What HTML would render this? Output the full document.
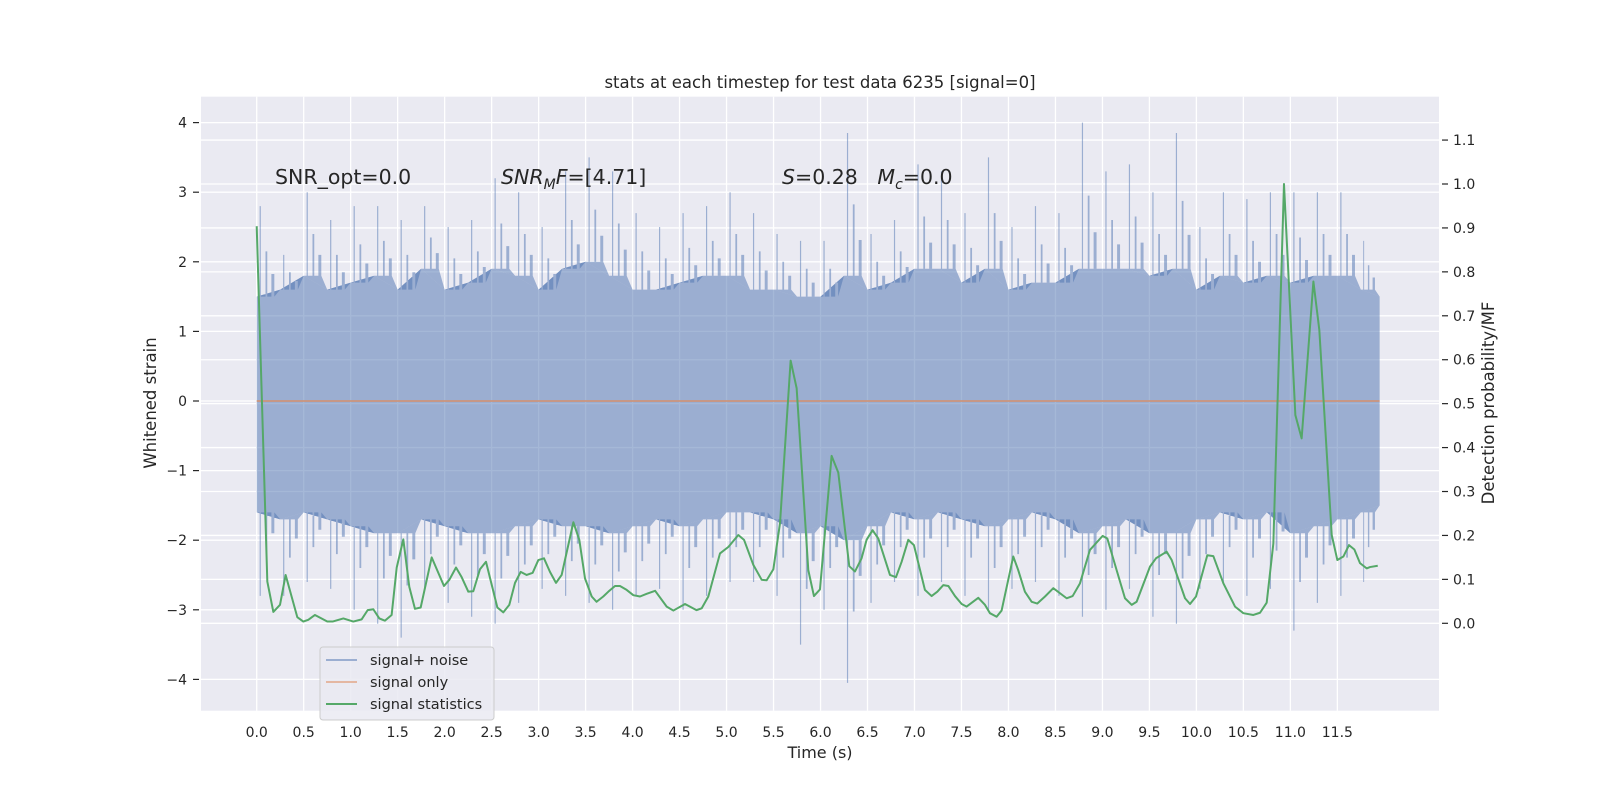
<!DOCTYPE html>
<html><head><meta charset="utf-8">
<style>
html,body{margin:0;padding:0;background:#fff;}
svg{display:block;font-family:"DejaVu Sans","Liberation Sans",sans-serif;}
text{white-space:pre;}
</style></head>
<body>
<svg id="chart" width="1600" height="800" viewBox="0 0 1600 800" xmlns="http://www.w3.org/2000/svg">
  <rect x="0" y="0" width="1600" height="800" fill="#ffffff"/>
  <rect x="201" y="96.7" width="1238" height="614" fill="#eaeaf2"/>
  <g id="grid"></g>
  <g id="noise"></g>
  <g id="signal"></g>
  <g id="stats"></g>
  <g id="axes"></g>
  <text x="820" y="88" text-anchor="middle" font-size="16.5" fill="#262626">stats at each timestep for test data 6235 [signal=0]</text>
  <text x="275" y="184" font-size="20.5" fill="#262626">SNR_opt=0.0</text>
  <text x="501" y="184" font-size="20.5" fill="#262626"><tspan font-style="italic">SNR</tspan><tspan font-style="italic" font-size="14" dy="5">M</tspan><tspan font-style="italic" dy="-5">F</tspan>=[4.71]</text>
  <text x="782" y="184" font-size="20.5" fill="#262626"><tspan font-style="italic">S</tspan>=0.28   <tspan font-style="italic">M</tspan><tspan font-style="italic" font-size="14" dy="5">c</tspan><tspan dy="-5">=0.0</tspan></text>
  <text x="820" y="758" text-anchor="middle" font-size="16" fill="#262626">Time (s)</text>
  <text transform="translate(156,403) rotate(-90)" text-anchor="middle" font-size="16.5" fill="#262626">Whitened strain</text>
  <text transform="translate(1494,403) rotate(-90)" text-anchor="middle" font-size="16.5" fill="#262626">Detection probability/MF</text>
  <g>
    <rect x="320" y="647" width="174" height="73" rx="3" fill="#eaeaf2" fill-opacity="0.85" stroke="#cccccc"/>
    <g>
      <line x1="326" y1="660" x2="357" y2="660" stroke="#4c72b0" stroke-opacity="0.5" stroke-width="2"/>
      <text x="370" y="665" font-size="14.5" fill="#262626">signal+ noise</text>
    </g>
    <g>
      <line x1="326" y1="682" x2="357" y2="682" stroke="#dd8452" stroke-opacity="0.5" stroke-width="2"/>
      <text x="370" y="687" font-size="14.5" fill="#262626">signal only</text>
    </g>
    <g>
      <line x1="326" y1="704" x2="357" y2="704" stroke="#55a868" stroke-width="2"/>
      <text x="370" y="709" font-size="14.5" fill="#262626">signal statistics</text>
    </g>
  </g>
</svg>
<script>
// ---- data ----
const xTicks = [0,0.5,1,1.5,2,2.5,3,3.5,4,4.5,5,5.5,6,6.5,7,7.5,8,8.5,9,9.5,10,10.5,11,11.5];
const xTickLabels = ["0.0","0.5","1.0","1.5","2.0","2.5","3.0","3.5","4.0","4.5","5.0","5.5","6.0","6.5","7.0","7.5","8.0","8.5","9.0","9.5","10.0","10.5","11.0","11.5"];
const leftTicks = [-4,-3,-2,-1,0,1,2,3,4];
const leftTickLabels = ["\u22124","\u22123","\u22122","\u22121","0","1","2","3","4"];
const rightTicks = [0,0.1,0.2,0.3,0.4,0.5,0.6,0.7,0.8,0.9,1.0,1.1];
const rightTickLabels = ["0.0","0.1","0.2","0.3","0.4","0.5","0.6","0.7","0.8","0.9","1.0","1.1"];

// noise envelope, sampled every 0.25 s
const envTimes = [0,0.25,0.5,0.75,1,1.25,1.5,1.75,2,2.25,2.5,2.75,3,3.25,3.5,3.75,4,4.25,4.5,4.75,5,5.25,5.5,5.75,6,6.25,6.5,6.75,7,7.25,7.5,7.75,8,8.25,8.5,8.75,9,9.25,9.5,9.75,10,10.25,10.5,10.75,11,11.25,11.5,11.75,11.95];
const noiseMax = [2.8,2.1,3.0,2.6,2.8,2.8,2.6,2.8,2.5,2.6,3.2,3.0,2.5,3.3,3.5,3.3,2.7,2.5,2.7,2.8,3.0,2.7,2.4,2.3,2.3,3.85,2.4,2.6,3.4,3.3,2.7,3.5,2.5,2.8,2.7,4.0,3.3,3.4,3.0,3.85,2.5,3.0,2.9,3.0,3.0,3.0,3.0,2.3,2.1];
const noiseUpper = [1.5,1.6,1.8,1.6,1.7,1.8,1.6,1.9,1.6,1.7,1.9,1.8,1.6,1.9,2.0,1.8,1.6,1.6,1.7,1.8,1.8,1.6,1.6,1.5,1.5,1.8,1.6,1.7,1.9,1.9,1.7,1.9,1.6,1.7,1.7,1.9,1.9,1.9,1.8,1.9,1.6,1.8,1.7,1.8,1.7,1.8,1.8,1.6,1.5];
const noiseLower = [-1.6,-1.7,-1.6,-1.7,-1.8,-1.9,-1.9,-1.7,-1.8,-1.9,-1.9,-1.8,-1.7,-1.8,-1.8,-1.9,-1.8,-1.7,-1.8,-1.7,-1.6,-1.6,-1.7,-1.9,-1.8,-2.0,-1.8,-1.6,-1.7,-1.6,-1.7,-1.8,-1.7,-1.6,-1.7,-1.9,-1.8,-1.7,-1.9,-1.9,-1.7,-1.6,-1.7,-1.6,-1.9,-1.8,-1.7,-1.6,-1.5];
const noiseMin = [-2.8,-2.8,-2.6,-2.7,-3.0,-3.2,-3.4,-2.7,-2.9,-3.1,-3.2,-2.9,-2.7,-2.8,-2.9,-3.0,-2.8,-2.7,-3.0,-2.8,-2.6,-2.6,-2.8,-3.5,-3.0,-4.05,-2.9,-2.6,-2.8,-2.6,-2.8,-3.0,-2.7,-2.6,-2.8,-3.1,-3.0,-2.7,-3.1,-3.2,-2.7,-2.6,-2.8,-2.7,-3.3,-2.9,-2.8,-2.6,-2.5];
const signalOnly = [0,0];
const signalTimes = [0,11.95];

// detection statistic
const statTimes = [0,0.113,0.177,0.248,0.308,0.432,0.496,0.549,0.62,0.751,0.808,0.922,1.028,1.117,1.181,1.241,1.305,1.365,1.436,1.49,1.56,1.624,1.684,1.745,1.862,1.993,2.05,2.121,2.181,2.252,2.305,2.376,2.44,2.561,2.624,2.688,2.749,2.809,2.873,2.937,2.997,3.057,3.121,3.185,3.245,3.37,3.433,3.494,3.565,3.617,3.688,3.742,3.813,3.866,3.937,4.008,4.079,4.15,4.24,4.363,4.434,4.558,4.68,4.735,4.806,4.93,5.02,5.125,5.186,5.285,5.374,5.427,5.498,5.569,5.682,5.746,5.87,5.93,5.994,6.118,6.189,6.306,6.367,6.437,6.49,6.554,6.615,6.739,6.803,6.863,6.934,6.994,7.111,7.182,7.243,7.307,7.36,7.431,7.502,7.555,7.679,7.75,7.803,7.874,7.927,8.051,8.104,8.175,8.247,8.307,8.389,8.477,8.619,8.683,8.761,8.867,9.002,9.052,9.151,9.24,9.311,9.364,9.506,9.57,9.683,9.737,9.879,9.932,9.996,10.116,10.18,10.287,10.411,10.5,10.606,10.677,10.748,10.819,10.932,11.053,11.12,11.245,11.308,11.44,11.5,11.564,11.624,11.681,11.741,11.812,11.847,11.93];
const statValues = [0.904,0.095,0.026,0.042,0.110,0.014,0.004,0.008,0.019,0.004,0.004,0.011,0.004,0.009,0.030,0.032,0.011,0.006,0.019,0.127,0.191,0.083,0.033,0.036,0.150,0.085,0.099,0.127,0.105,0.072,0.073,0.123,0.140,0.036,0.025,0.042,0.092,0.117,0.110,0.115,0.144,0.148,0.117,0.092,0.110,0.230,0.190,0.102,0.061,0.049,0.061,0.072,0.085,0.085,0.076,0.064,0.061,0.067,0.074,0.038,0.029,0.044,0.030,0.034,0.061,0.159,0.174,0.201,0.190,0.133,0.099,0.098,0.123,0.228,0.598,0.535,0.121,0.062,0.077,0.381,0.343,0.130,0.118,0.148,0.190,0.212,0.193,0.110,0.105,0.140,0.190,0.178,0.076,0.062,0.072,0.087,0.085,0.062,0.044,0.038,0.058,0.042,0.023,0.015,0.029,0.152,0.121,0.072,0.049,0.045,0.061,0.080,0.057,0.062,0.091,0.167,0.199,0.193,0.121,0.057,0.042,0.049,0.129,0.148,0.163,0.144,0.057,0.044,0.061,0.155,0.153,0.091,0.038,0.023,0.019,0.024,0.047,0.182,1.00,0.474,0.421,0.778,0.668,0.201,0.144,0.152,0.178,0.168,0.137,0.125,0.128,0.131];

// ---- axis functions ----
const X0 = 201, X1 = 1439, Y0 = 96.7, Y1 = 710.7;
const xS = t => 256.7 + t * 93.97;
const yL = v => 401 - v * 69.6;
const yR = v => 623.3 - v * 439.3;
const NS = "http://www.w3.org/2000/svg";
function mk(tag, attrs, parent){
  const e = document.createElementNS(NS, tag);
  for (const k in attrs) e.setAttribute(k, attrs[k]);
  parent.appendChild(e);
  return e;
}
const grid = document.getElementById('grid');
const axes = document.getElementById('axes');

xTicks.forEach((t,i) => {
  const g = mk('line',{x1:xS(t),x2:xS(t),y1:Y0,y2:Y1,stroke:'#fff','stroke-width':1.3},grid);
  
  
  const tx = mk('text',{x:xS(t),y:737,'text-anchor':'middle','font-size':14,fill:'#262626'},axes);
  tx.textContent = xTickLabels[i];
  
  
});
leftTicks.forEach((v,i) => {
  const g = mk('line',{x1:X0,x2:X1,y1:yL(v),y2:yL(v),stroke:'#fff','stroke-width':1.3},grid);
  
  
  const tk = mk('line',{x1:193,x2:199,y1:yL(v),y2:yL(v),stroke:'#262626','stroke-width':1.2},axes);
  
  
  const tx = mk('text',{x:187,y:yL(v)+5,'text-anchor':'end','font-size':14,fill:'#262626'},axes);
  tx.textContent = leftTickLabels[i];
  
  
});
rightTicks.forEach((v,i) => {
  const g = mk('line',{x1:X0,x2:X1,y1:yR(v),y2:yR(v),stroke:'#fff','stroke-width':1.3},grid);
  
  
  const tk = mk('line',{x1:1442,x2:1448,y1:yR(v),y2:yR(v),stroke:'#262626','stroke-width':1.2},axes);
  
  
  const tx = mk('text',{x:1453,y:yR(v)+5,'font-size':14,fill:'#262626'},axes);
  tx.textContent = rightTickLabels[i];
  
  
});

// noise: dense band + spiky fringes (non-overlapping)
const noise = document.getElementById('noise');
function fringe(outer, inner){
  const pts = [];
  for (let i=0;i<envTimes.length;i++){
    const t = envTimes[i];
    pts.push([xS(t), yL(inner[i])]);
    if (i<envTimes.length-1){
      const h = (envTimes[i+1]-t)/8;
      const m = (outer[i]+inner[i])/2;
      pts.push([xS(t+h), yL(inner[i])]);
      pts.push([xS(t+h), yL(outer[i])]);
      pts.push([xS(t+1.4*h), yL(outer[i])]);
      pts.push([xS(t+1.4*h), yL(inner[i])]);
      pts.push([xS(t+3*h), yL(inner[i])]);
      pts.push([xS(t+3*h), yL(m)]);
      pts.push([xS(t+3.6*h), yL(m)]);
      pts.push([xS(t+3.6*h), yL(inner[i])]);
      pts.push([xS(t+5*h), yL(inner[i])]);
      pts.push([xS(t+5*h), yL((m+inner[i])/2)]);
      pts.push([xS(t+6*h), yL((m+inner[i])/2)]);
      pts.push([xS(t+6*h), yL(inner[i])]);
    }
  }
  const base = envTimes.slice().reverse().map((t,j)=>[xS(t), yL(inner[envTimes.length-1-j])]);
  return pts.concat(base).map(p=>p.join(',')).join(' ');
}
const bandUp = envTimes.map((t,i)=>[xS(t), yL(noiseUpper[i])]);
const bandLo = envTimes.map((t,i)=>[xS(t), yL(noiseLower[i])]);
const pm = mk('polygon',{points:bandUp.concat(bandLo.reverse()).map(p=>p.join(',')).join(' '),fill:'#4c72b0','fill-opacity':0.5},noise);


const pu = mk('polygon',{points:fringe(noiseMax, noiseUpper),fill:'#4c72b0','fill-opacity':0.5},noise);


const pl = mk('polygon',{points:fringe(noiseMin, noiseLower),fill:'#4c72b0','fill-opacity':0.5},noise);



// signal only
const sig = mk('polyline',{points:signalTimes.map((t,i)=>xS(t)+','+yL(signalOnly[i])).join(' '),fill:'none',stroke:'#dd8452','stroke-opacity':0.6,'stroke-width':2},document.getElementById('signal'));



// statistics line
const st = mk('polyline',{points:statTimes.map((t,i)=>xS(t)+','+yR(statValues[i])).join(' '),fill:'none',stroke:'#55a868','stroke-width':2,'stroke-linejoin':'round'},document.getElementById('stats'));


</script>
</body></html>
